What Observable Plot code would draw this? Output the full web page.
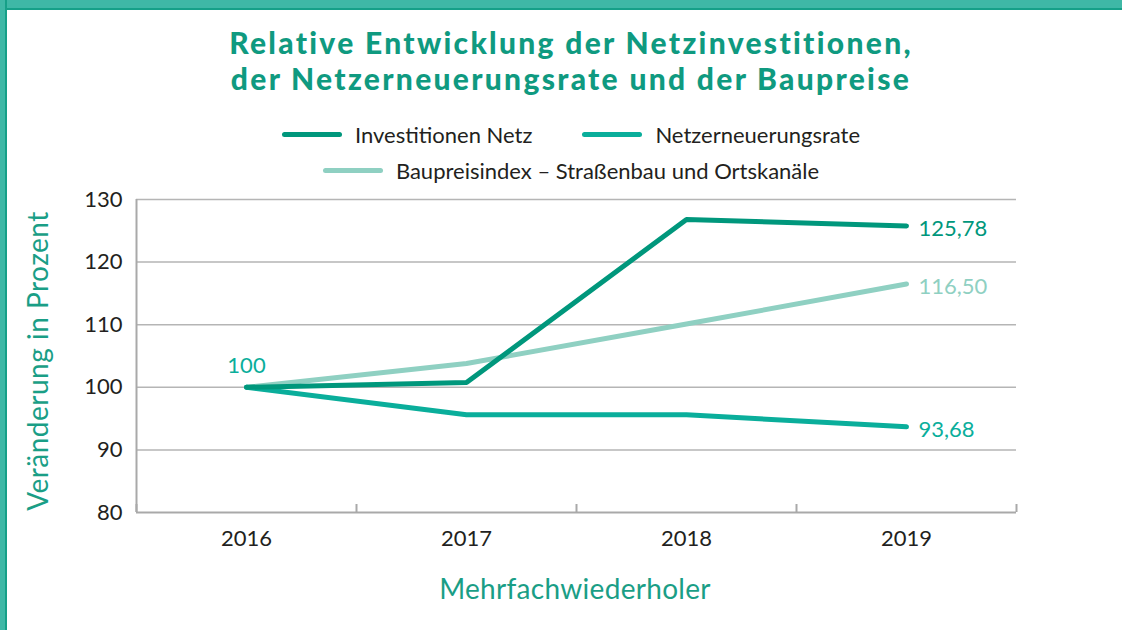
<!DOCTYPE html>
<html>
<head>
<meta charset="utf-8">
<script src="https://cdn.jsdelivr.net/npm/d3@7"></script>
<script src="https://cdn.jsdelivr.net/npm/@observablehq/plot@0.6"></script>
<style>
  html, body { margin: 0; padding: 0; background: #fff; }
  #wrap { position: relative; width: 1122px; height: 630px; overflow: hidden; background: #fff; font-family: Lato, "Open Sans", sans-serif; }
  #frameTop { position: absolute; left: 0; top: 0; width: 1122px; height: 8px; background: #3fb8a6; border-bottom: 2px solid #16a088; }
  #frameLeft { position: absolute; left: 0; top: 0; width: 5px; height: 630px; background: #3fb8a6; border-right: 2px solid #16a088; }
  .title { position: absolute; left: 0; width: 1142px; height: 36px; text-align: center; color: #0f9a80; font-weight: 900; font-size: 30px; letter-spacing: 2.3px; line-height: 36px; white-space: nowrap; }
  .legrow { position: absolute; left: 0; width: 1142px; display: flex; justify-content: center; align-items: center; font-size: 22px; color: #231f20; }
  .item { display: flex; align-items: center; margin: 0 25px; }
  .sw { width: 60px; height: 5px; border-radius: 3px; margin-right: 13px; }
  #ytitle { position: absolute; left: 37px; top: 361px; transform: translate(-50%, -50%) rotate(-90deg); white-space: nowrap; color: #1a9e86; font-size: 28px; letter-spacing: 0.5px; }
  #xtitle { position: absolute; left: 575px; top: 588px; transform: translate(-50%, -50%); white-space: nowrap; color: #1a9e86; font-size: 28px; letter-spacing: 0.3px; }
  #chart { position: absolute; left: 0; top: 0; }
</style>
</head>
<body>
<div id="wrap">
  <div id="chart"></div>
  <div id="frameTop"></div>
  <div id="frameLeft"></div>
  <div class="title" style="top:24px;">Relative Entwicklung der Netzinvestitionen,</div>
  <div class="title" style="top:60px;">der Netzerneuerungsrate und der Baupreise</div>
  <div class="legrow" id="leg1" style="top:121px;height:26px;"></div>
  <div class="legrow" id="leg2" style="top:157px;height:26px;"></div>
  <div id="ytitle">Veränderung in Prozent</div>
  <div id="xtitle">Mehrfachwiederholer</div>
</div>
<script>
const years = [2016, 2017, 2018, 2019];
const seriesNames = ["Investitionen Netz", "Netzerneuerungsrate", "Baupreisindex – Straßenbau und Ortskanäle"];
const investitionenNetz = [100, 100.75, 126.8, 125.78];
const netzerneuerungsrate = [100, 95.6, 95.6, 93.68];
const baupreisindex = [100, 103.8, 110.1, 116.50];
const seriesColors = ["#00977c", "#0aae9b", "#8fd0c2"];
const yTicks = [80, 90, 100, 110, 120, 130];

const valuesBySeries = [investitionenNetz, netzerneuerungsrate, baupreisindex];
const rows = [];
seriesNames.forEach((s, si) => years.forEach((yr, i) => rows.push({series: s, year: yr, value: valuesBySeries[si][i]})));
const drawOrder = [seriesNames[2], seriesNames[1], seriesNames[0]];
const orderedRows = drawOrder.flatMap(s => rows.filter(r => r.series === s));
const lastRows = rows.filter(r => r.year === years[years.length - 1]);
const firstRow = rows.filter(r => r.year === years[0] && r.series === seriesNames[1]);
const boundaries = [years[0] - 0.5, ...years.map(y => y + 0.5)];
const fmt = v => v.toFixed(2).replace(".", ",");

// legend
const leg1 = document.getElementById("leg1");
const leg2 = document.getElementById("leg2");
seriesNames.forEach((s, i) => {
  const it = document.createElement("div");
  it.className = "item";
  it.innerHTML = `<span class="sw" style="background:${seriesColors[i]}"></span><span>${s}</span>`;
  (i < 2 ? leg1 : leg2).appendChild(it);
});

const chart = Plot.plot({
  width: 1122,
  height: 630,
  marginLeft: 136,
  marginRight: 106,
  marginTop: 199,
  marginBottom: 118,
  style: {fontFamily: "Lato, 'Open Sans', sans-serif", background: "transparent", color: "#231f20"},
  x: {domain: [years[0] - 0.5, years[years.length - 1] + 0.5]},
  y: {domain: [yTicks[0], yTicks[yTicks.length - 1]]},
  color: {domain: seriesNames, range: seriesColors},
  marks: [
    Plot.ruleY(yTicks.slice(1), {stroke: "#b5b5b5", strokeWidth: 1.5}),
    Plot.ruleY([yTicks[0]], {stroke: "#a9a9a9", strokeWidth: 2}),
    Plot.ruleX([boundaries[0]], {stroke: "#a9a9a9", strokeWidth: 2}),
    Plot.axisX(boundaries, {tickSize: -8, tickFormat: () => "", stroke: "#a9a9a9", strokeWidth: 2, label: null}),
    Plot.axisY({ticks: yTicks, tickSize: 0, tickPadding: 14, fontSize: 22, label: null, tickFormat: d => String(d), fill: "#231f20"}),
    Plot.axisX({ticks: years, tickSize: 0, tickPadding: 18, fontSize: 22, label: null, tickFormat: d => String(d), fill: "#231f20"}),
    Plot.line(orderedRows, {x: "year", y: "value", z: "series", stroke: "series", strokeWidth: 5, strokeLinecap: "round", strokeLinejoin: "round"}),
    Plot.text(lastRows, {x: "year", y: "value", text: d => fmt(d.value), fill: "series", dx: 12, dy: 3, textAnchor: "start", fontSize: 22}),
    Plot.text(firstRow, {x: "year", y: "value", text: d => String(d.value), fill: seriesColors[1], dy: -21, fontSize: 22})
  ]
});
document.getElementById("chart").appendChild(chart);
</script>
</body>
</html>
